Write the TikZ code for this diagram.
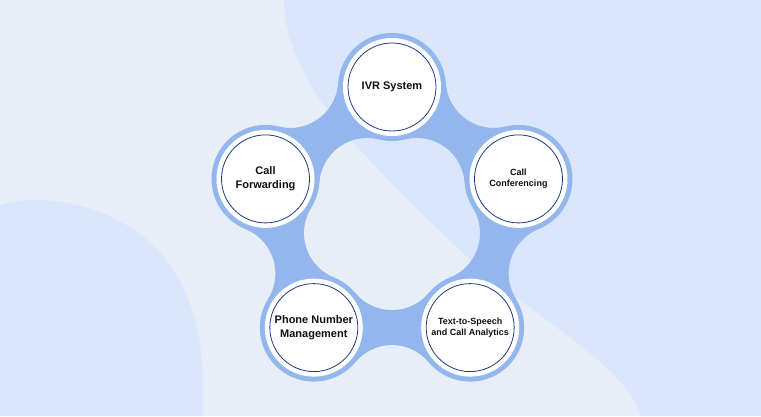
\documentclass[tikz,border=0pt]{standalone}
\usepackage{fontspec}
\setmainfont{Liberation Sans}
\usetikzlibrary{calc,backgrounds}

\definecolor{bgbase}{HTML}{E8EEF8}
\definecolor{bglight}{HTML}{D9E6FC}
\definecolor{ring}{HTML}{93B6EC}
\definecolor{navy}{HTML}{1D3A8A}
\definecolor{ink}{HTML}{111111}

\begin{document}
\begin{tikzpicture}[x=1pt, y=1pt,
  hub/.style={circle, inner sep=0pt, minimum size=88pt, fill=white, draw=navy,
    line width=0.8pt, align=center, text=ink,
    font=\bfseries\fontsize{11}{13.5}\selectfont,
    preaction={draw=ring, line width=20pt},
    preaction={draw=white, line width=10pt}},
  small/.style={font=\bfseries\fontsize{9}{11}\selectfont}]
\coordinate (C) at (392,196);
\node[hub] (ivr) at ($(C)+(90:133)$) {IVR System};
\node[hub] (fwd) at ($(C)+(162:133)$) {Call\\Forwarding};
\node[hub] (phone) at ($(C)+(234:133)$) {Phone Number\\Management};
\node[hub, small] (tts) at ($(C)+(306:133)$) {Text-to-Speech\\and Call Analytics};
\node[hub, small] (conf) at ($(C)+(18:133)$) {Call\\Conferencing};
\begin{scope}[on background layer]
% backdrop
\fill[bgbase] (0,0) rectangle (761,416);
\fill[bglight] (284,416) .. controls (285,330) and (370,255) .. (440,185)
  .. controls (530,95) and (620,60) .. (641,0) -- (761,0) -- (761,416) -- cycle;
\fill[bglight] (0,211) .. controls (60,228) and (150,200) .. (182,130)
  .. controls (204,90) and (203,40) .. (203,0) -- (0,0) -- cycle;
% links between the hubs
\foreach \na/\nb [count=\i, evaluate=\i as \p using 54+72*\i] in
    {ivr/fwd, fwd/phone, phone/tts, tts/conf, conf/ivr}
  \fill[ring] (\nb.center) -- ($(C)+(\p:173.1)+(\p+130:48)$)
    arc[start angle=\p+130, end angle=\p+230, radius=48]
    -- (\na.center) -- ($(C)+(\p:42.1)+(\p-50:48)$)
    arc[start angle=\p-50, end angle=\p+50, radius=48] -- cycle;
\end{scope}
\end{tikzpicture}
\end{document}
